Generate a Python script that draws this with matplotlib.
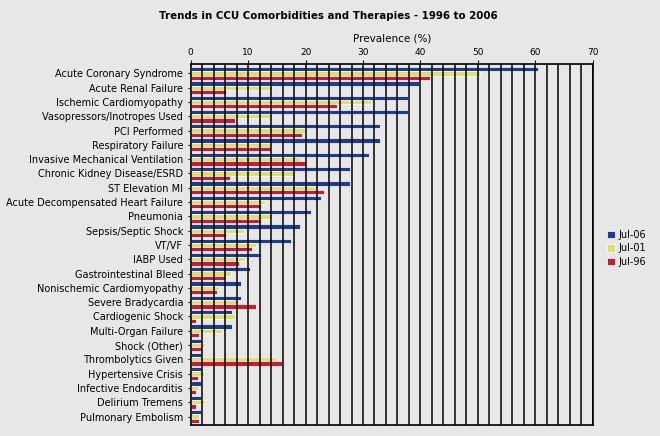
import matplotlib
matplotlib.use("Agg")
import matplotlib.pyplot as plt
import numpy as np

categories = ['Acute Coronary Syndrome', 'Acute Renal Failure', 'Ischemic Cardiomyopathy',
              'Vasopressors/Inotropes Used', 'PCI Performed', 'Respiratory Failure',
              'Invasive Mechanical Ventilation', 'Chronic Kidney Disease/ESRD', 'ST Elevation MI',
              'Acute Decompensated Heart Failure', 'Pneumonia', 'Sepsis/Septic Shock', 'VT/VF',
              'IABP Used', 'Gastrointestinal Bleed', 'Nonischemic Cardiomyopathy',
              'Severe Bradycardia', 'Cardiogenic Shock', 'Multi-Organ Failure', 'Shock (Other)',
              'Thrombolytics Given', 'Hypertensive Crisis', 'Infective Endocarditis',
              'Delirium Tremens', 'Pulmonary Embolism']

jul06 = [60.4, 39.8, 37.9, 37.9, 32.9, 32.9, 31.1, 27.7, 27.7, 22.6, 20.9, 19.1, 17.4,
         12.3, 10.4, 8.8, 8.8, 7.2, 7.2, 1.7, 1.7, 1.7, 1.7, 1.7, 1.7]
jul01 = [50.3, 14.2, 31.4, 13.9, 20.0, 14.0, 19.0, 18.0, 21.8, 13.0, 14.0, 9.2, 11.3,
         9.5, 7.0, 5.0, 8.0, 7.7, 5.5, 2.5, 15.1, 2.3, 1.2, 2.5, 1.5]
jul96 = [41.7, 6.2, 25.4, 7.7, 19.4, 14.0, 20.0, 6.9, 23.2, 12.2, 12.3, 6.2, 10.7,
         8.4, 6.0, 4.5, 11.3, 1.0, 1.5, 2.0, 15.9, 1.2, 0.9, 1.0, 1.5]

series = [('Jul-06', jul06, '#1c3c8c'),
          ('Jul-01', jul01, '#dede6e'),
          ('Jul-96', jul96, '#c41c30')]

bg = '#e6e7e6'
fig = plt.figure(figsize=(6.6, 4.36), dpi=100, facecolor=bg)
ax = fig.add_axes([0.289, 0.025, 0.609, 0.828], facecolor=bg)

y = np.arange(len(categories))
h = 0.3
for k, (name, vals, col) in enumerate(series):
    ax.barh(y + (k - 1) * h, vals, h, color=col, edgecolor='white', linewidth=0.5,
            label=name, zorder=2)

# vertical lines every 2 units drawn over the bars
for xv in np.arange(2, 71, 2):
    ax.axvline(xv, color='black', linewidth=1.1, zorder=3)

ax.set_xlim(0, 70)
ax.set_ylim(24.6, -0.65)
ax.xaxis.tick_top()
ax.xaxis.set_label_position('top')
ax.set_xticks(np.arange(0, 71, 10))
ax.tick_params(axis='x', labelsize=6.5, length=3, pad=2)
ax.set_xlabel('Prevalence (%)', fontsize=7.5, labelpad=5)
ax.set_yticks(y)
ax.set_yticklabels(categories, fontsize=7)
ax.tick_params(axis='y', length=2.5, pad=3)
for s in ax.spines.values():
    s.set_color('black')
    s.set_linewidth(1.2)
    s.set_zorder(4)

fig.suptitle('Trends in CCU Comorbidities and Therapies - 1996 to 2006',
             fontsize=7.4, fontweight='bold', x=0.497, y=0.975)

ax.legend(loc='center left', bbox_to_anchor=(1.015, 0.49), frameon=False, fontsize=7,
          handlelength=0.8, handleheight=0.8, handletextpad=0.3, labelspacing=0.35)

fig.savefig('out.png', dpi=100, facecolor=bg)
